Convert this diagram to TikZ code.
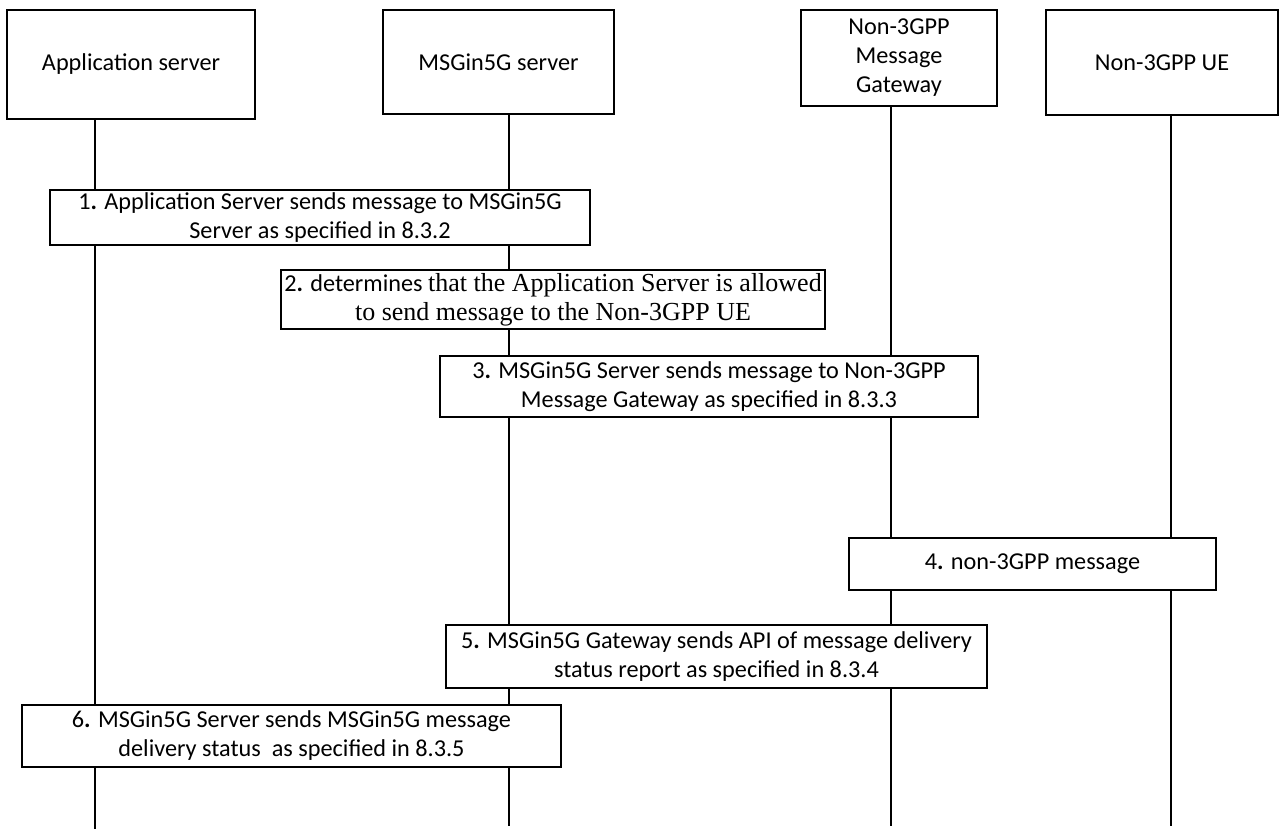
\documentclass[tikz,border=0pt]{standalone}
\usepackage{fontspec}
\setmainfont{Carlito}
\newfontfamily\timesfont{Liberation Serif}
\usetikzlibrary{positioning}
\newcommand{\tnr}{\timesfont\fontsize{14.8}{16.5}\selectfont}
\tikzset{
  ent/.style={draw, line width=0.7pt, align=center, inner sep=0pt,
              font=\fontsize{13.8}{16.5}\selectfont},
  msg/.style={draw, line width=0.7pt, fill=white, align=center, inner sep=0pt,
              font=\fontsize{13.8}{16.5}\selectfont},
  life/.style={line width=0.6pt},
}

\begin{document}
\begin{tikzpicture}
  \useasboundingbox (0,0) rectangle (25.6,-16.6);
  % entities
  \node[ent, minimum width=4.96cm, minimum height=2.18cm] (app) at (2.62,-1.29) {Application server};
  \node[ent, minimum width=4.62cm, minimum height=2.08cm] (srv) at (9.97,-1.24) {MSGin5G server};
  \node[ent, minimum width=3.92cm, minimum height=1.92cm] (gw) at (17.98,-1.16) {Non-3GPP\\Message\\Gateway};
  \node[ent, minimum width=4.64cm, minimum height=2.10cm] (ue) at (23.24,-1.25) {Non-3GPP UE};
  % lifeline ends
  \coordinate (appEnd) at (1.90,-16.58);
  \coordinate (srvEnd) at (10.18,-16.52);
  \coordinate (gwEnd) at (17.82,-16.52);
  \coordinate (ueEnd) at (23.42,-16.52);
  \draw[life] (app.south -| appEnd) -- (appEnd);
  \draw[life] (srv.south -| srvEnd) -- (srvEnd);
  \draw[life] (gw.south -| gwEnd) -- (gwEnd);
  \draw[life] (ue.south -| ueEnd) -- (ueEnd);
  % steps
  \node[msg, minimum width=10.8cm, minimum height=1.1cm] (s1) at (6.40,-4.35)
       {1\textbf{.} Application Server sends message to MSGin5G\\Server as specified in 8.3.2};
  \node[msg, minimum width=10.88cm, minimum height=1.18cm] (s2) at (11.06,-5.99)
       {2\textbf{.} determines {\tnr that the Application Server is allowed}\\
        {\tnr to send message to the Non-3GPP UE}};
  \node[msg, minimum width=10.76cm, minimum height=1.22cm] (s3) at (14.18,-7.73)
       {3\textbf{.} MSGin5G Server sends message to Non-3GPP\\Message Gateway as specified in 8.3.3};
  \node[msg, minimum width=7.34cm, minimum height=1.04cm] (s4) at (20.65,-11.28)
       {4\textbf{.} non-3GPP message};
  \node[msg, minimum width=10.82cm, minimum height=1.26cm] (s5) at (14.33,-13.13)
       {5\textbf{.} MSGin5G Gateway sends API of message delivery\\status report as specified in 8.3.4};
  \node[msg, minimum width=10.78cm, minimum height=1.24cm] (s6) at (5.83,-14.72)
       {6\textbf{.} MSGin5G Server sends MSGin5G message\\delivery status~ as specified in 8.3.5};
\end{tikzpicture}
\end{document}
